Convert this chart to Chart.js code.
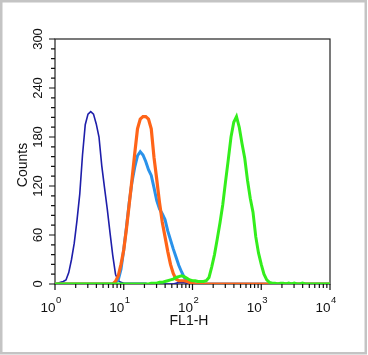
<!DOCTYPE html>
<html>
<head>
<meta charset="utf-8">
<script src="https://cdn.jsdelivr.net/npm/chart.js@4.4.1/dist/chart.umd.min.js"></script>
<style>
  html, body { margin: 0; padding: 0; background: #fff; }
  #wrap { width: 368px; height: 355px; }
</style>
</head>
<body>
<div id="wrap"><canvas id="c" width="368" height="355"></canvas></div>
<script>
// FL1-H channel values (log-spaced histogram bins)
const channels = [1,1.096,1.202,1.318,1.445,1.585,1.738,1.905,2.089,2.291,2.512,2.754,3.02,3.311,3.631,3.981,4.365,4.786,5.248,5.754,6.31,6.918,7.586,8.318,9.12,
  10,10.96,12.02,13.18,14.45,15.85,17.38,19.05,20.89,22.91,25.12,27.54,30.2,33.11,36.31,39.81,43.65,47.86,52.48,57.54,63.1,69.18,75.86,83.18,91.2,
  100,109.6,120.2,131.8,144.5,158.5,173.8,190.5,208.9,229.1,251.2,275.4,302,331.1,363.1,398.1,436.5,478.6,524.8,575.4,631,691.8,758.6,831.8,912,
  1000,1096,1202,1318,1445,1585,1738,1905,2089,2291,2512,2754,3020,3311,3631,3981,4365,4786,5248,5754,6310,6918,7586,8318,9120,10000];

// Counts per channel
const navyCounts = [0,1,2,3,5,14,30,50,78,110,158,195,208,211,208,196,180,145,118,92,63,35,12,4,2,
  1,1,1,1,1,1,1,1,1,0,0,0,0,0,0,0,0,0,0,1,2,2,2,1,0,
  0,0,0,0,0,0,0,0,0,0,0,0,0,0,0,0,0,0,0,0,0,0,0,0,0,
  0,0,0,0,0,0,0,0,0,0,0,0,0,0,0,0,0,0,0,0,0,0,0,0,0,0];
const blueCounts = [0,0,0,0,0,0,0,0,0,0,0,0,0,0,0,0,0,0,0,0,0,0,2,5,18,
  42,70,100,125,143,157,162,158,150,140,133,118,102,92,86,79,65,54,43,33,23,15,8,5,2,
  1,0,0,0,0,0,0,0,0,0,0,0,0,0,0,0,0,0,0,0,0,0,0,0,0,
  0,0,0,0,0,0,0,0,0,0,0,0,0,0,0,0,0,0,0,0,0,0,0,0,0,0];
const orangeCounts = [0,0,0,0,0,0,0,0,0,0,0,0,0,0,0,0,0,0,0,0,0,0,3,10,24,
  42,68,98,128,160,190,202,205,205,202,190,155,128,100,76,58,40,24,13,6,4,4,4,3,2,
  1,0,0,0,0,0,0,0,0,0,0,0,0,0,0,0,0,0,0,0,0,0,0,0,0,
  0,0,0,0,0,0,0,0,0,0,0,0,0,0,0,0,0,0,0,0,0,0,0,0,0,0];
const greenCounts = [0,0,0,0,0,0,0,0,0,0,0,0,0,0,0,0,0,0,0,0,0,0,0,0,0,
  0,0,0,0,0,0,0,0,0,0,1,1,1,2,2,3,4,5,6,8,9,10,9,7,5,
  4,4,3,3,3,4,8,21,36,55,75,97,125,152,180,198,205,192,172,154,127,105,88,58,38,
  24,12,5,2,1,1,0,1,1,0,1,0,1,0,0,1,0,0,0,0,0,0,0,0,0,0];

const seriesNames = ['Green', 'Orange', 'Blue', 'Navy'];
const xMajorTicks = [1, 10, 100, 1000, 10000];
const xTickExponents = ['0', '1', '2', '3', '4'];
const yTickValues = [0, 60, 120, 180, 240, 300];
const yTickLabels = ['0', '60', '120', '180', '240', '300'];
const xTitle = 'FL1-H';
const yTitle = 'Counts';

function pts(counts) { return channels.map((c, i) => ({ x: c, y: counts[i] })); }

const FONT = '"Liberation Sans", Arial, Helvetica, sans-serif';
const TEXT = '#111111';

const decor = {
  id: 'decor',
  beforeDraw(chart) {
    const ctx = chart.ctx;
    ctx.save();
    ctx.fillStyle = '#ffffff';
    ctx.fillRect(0, 0, chart.width, chart.height);
    ctx.strokeStyle = '#c4c4c4';
    ctx.lineWidth = 2.5;
    ctx.strokeRect(1.25, 1.25, 364.5, 352);
    ctx.restore();
  },
  beforeDatasetsDraw(chart) {
    const ctx = chart.ctx, a = chart.chartArea;
    const xs = chart.scales.x, ys = chart.scales.y;
    ctx.save();
    ctx.strokeStyle = '#222';
    ctx.lineWidth = 1.2;
    ctx.strokeRect(a.left, a.top, a.right - a.left, a.bottom - a.top);
    ctx.strokeStyle = '#111';
    ctx.lineWidth = 1.2;
    ctx.beginPath();
    for (let d = 0; d < xMajorTicks.length; d++) {
      const base = xMajorTicks[d];
      const px = xs.getPixelForValue(base);
      ctx.moveTo(px, a.bottom); ctx.lineTo(px, a.bottom + 6);
      if (d < xMajorTicks.length - 1) {
        for (let m = 2; m <= 9; m++) {
          const p = xs.getPixelForValue(base * m);
          ctx.moveTo(p, a.bottom); ctx.lineTo(p, a.bottom + 4);
        }
      }
    }
    for (let v = 0; v <= 300; v += 12) {
      const py = ys.getPixelForValue(v);
      const len = (v % 60 === 0) ? 6 : 4;
      ctx.moveTo(a.left, py); ctx.lineTo(a.left - len, py);
    }
    ctx.stroke();
    ctx.restore();
  },
  afterDraw(chart) {
    const ctx = chart.ctx;
    const xs = chart.scales.x, ys = chart.scales.y;
    ctx.save();
    ctx.fillStyle = TEXT;
    for (let i = 0; i < xMajorTicks.length; i++) {
      const px = xs.getPixelForValue(xMajorTicks[i]);
      ctx.font = '13.5px ' + FONT;
      ctx.textAlign = 'right';
      ctx.textBaseline = 'alphabetic';
      ctx.fillText('10', px + 0.5, 311.5);
      ctx.font = '9.5px ' + FONT;
      ctx.textAlign = 'left';
      ctx.fillText(xTickExponents[i], px + 1, 303);
    }
    ctx.font = '13px ' + FONT;
    for (let i = 0; i < yTickValues.length; i++) {
      const py = ys.getPixelForValue(yTickValues[i]);
      ctx.save();
      ctx.translate(42, py);
      ctx.rotate(-Math.PI / 2);
      ctx.textAlign = 'center';
      ctx.textBaseline = 'alphabetic';
      ctx.fillText(yTickLabels[i], 0, 0);
      ctx.restore();
    }
    ctx.font = '14px ' + FONT;
    ctx.textAlign = 'center';
    ctx.textBaseline = 'alphabetic';
    ctx.fillText(xTitle, 189, 325);
    ctx.save();
    ctx.translate(26.5, 165);
    ctx.rotate(-Math.PI / 2);
    ctx.fillText(yTitle, 0, 0);
    ctx.restore();
    ctx.restore();
  }
};

new Chart(document.getElementById('c'), {
  type: 'line',
  data: {
    datasets: [
      { label: seriesNames[0], data: pts(greenCounts), borderColor: '#33ee1c', borderWidth: 3 },
      { label: seriesNames[1], data: pts(orangeCounts), borderColor: '#ff6418', borderWidth: 3.2 },
      { label: seriesNames[2], data: pts(blueCounts), borderColor: '#2a92ea', borderWidth: 3 },
      { label: seriesNames[3], data: pts(navyCounts), borderColor: '#1e1eaa', borderWidth: 1.6 }
    ].map(d => Object.assign(d, { pointRadius: 0, fill: false, stepped: false, tension: 0 }))
  },
  options: {
    responsive: false,
    devicePixelRatio: 1,
    animation: false,
    layout: { padding: { left: 55, top: 39, right: 38, bottom: 71 } },
    plugins: { legend: { display: false }, tooltip: { enabled: false } },
    scales: {
      x: {
        type: 'logarithmic', min: 1, max: 10000,
        ticks: { display: false },
        grid: { display: false, drawTicks: false },
        border: { display: false }
      },
      y: {
        type: 'linear', min: 0, max: 300,
        ticks: { display: false },
        grid: { display: false, drawTicks: false },
        border: { display: false }
      }
    }
  },
  plugins: [decor]
});
</script>
</body>
</html>
